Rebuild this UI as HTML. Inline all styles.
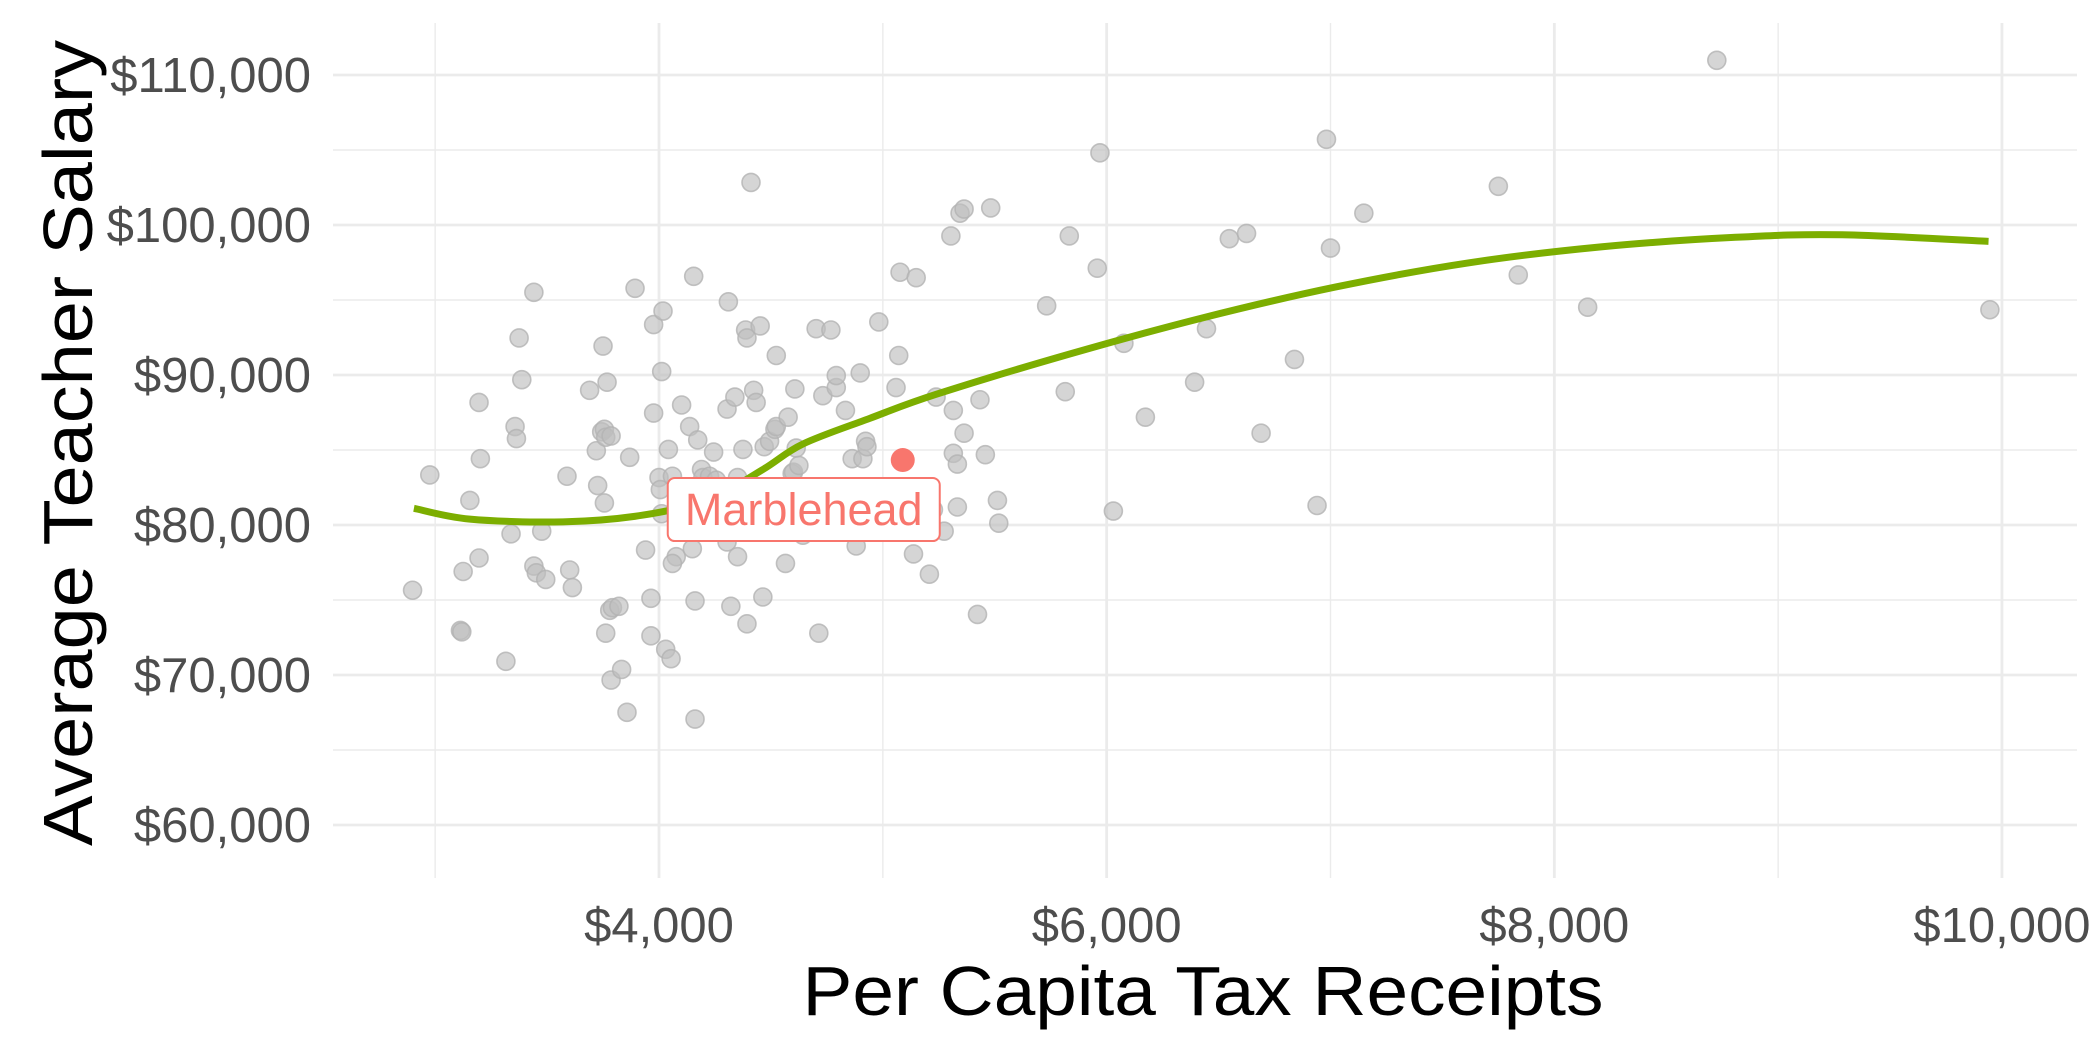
<!DOCTYPE html>
<html><head><meta charset="utf-8"><style>
html,body{margin:0;padding:0;background:#fff;}
svg{display:block;font-family:"Liberation Sans",Arial,sans-serif;}
</style></head><body>
<svg id="chart" width="2100" height="1050" viewBox="0 0 2100 1050" xmlns="http://www.w3.org/2000/svg">
<g id="grid"></g>
<g id="points"></g>
<g id="trend"></g>
<g id="highlight"></g>
<g id="axes"></g>
<text x="1203" y="1015" font-size="70" fill="#000" text-anchor="middle" textLength="801" lengthAdjust="spacingAndGlyphs">Per Capita Tax Receipts</text>
<text transform="translate(92,443) rotate(-90)" font-size="70" fill="#000" text-anchor="middle" textLength="806" lengthAdjust="spacingAndGlyphs">Average Teacher Salary</text>
</svg>
<script>
const xVals=[2899,2976,3113,3119,3125,3155,3196,3202,3196,3316,3339,3357,3363,3375,3387,3441,3441,3452,3476,3494,3589,3601,3613,3690,3720,3726,3744,3750,3756,3762,3756,3762,3768,3786,3780,3786,3792,3821,3833,3857,3869,3893,3940,3964,3964,3976,3976,4000,4006,4012,4012,4018,4030,4054,4042,4060,4077,4060,4101,4137,4149,4161,4161,4173,4155,4190,4196,4226,4256,4244,4292,4304,4310,4304,4321,4339,4351,4351,4375,4387,4393,4411,4393,4423,4434,4464,4452,4470,4494,4518,4524,4524,4565,4577,4595,4601,4607,4613,4625,4625,4643,4702,4714,4732,4768,4792,4792,4833,4863,4881,4899,4911,4923,4929,4982,5000,5030,5059,5071,5077,5137,5149,5208,5226,5238,5274,5304,5315,5345,5363,5363,5315,5333,5333,5423,5434,5458,5482,5512,5518,5732,5815,5833,5958,5970,6030,6077,6173,6393,6446,6548,6625,6690,6839,6940,6982,7000,7149,7750,7839,8149,8726,9946];
const yVals=[75.65,83.34,72.97,72.88,76.90,81.64,88.17,84.42,77.80,70.91,79.41,86.56,85.76,92.47,89.69,95.51,77.26,76.81,79.59,76.37,83.25,77.00,75.83,88.98,84.95,82.63,86.21,91.93,86.38,85.85,81.47,72.79,89.52,85.94,74.31,69.66,74.49,74.58,70.37,67.51,84.51,95.78,78.33,75.11,72.61,87.46,93.36,83.16,82.36,80.75,90.23,94.26,71.71,71.09,85.04,83.25,77.89,77.44,88.00,86.56,78.42,74.94,67.06,85.67,96.58,83.70,83.16,83.25,82.99,84.86,80.39,78.87,94.88,87.73,74.58,88.53,77.89,83.16,85.04,93.00,73.41,102.84,92.47,88.98,88.17,75.20,93.27,85.22,85.58,86.38,91.30,86.56,77.44,87.19,83.43,83.52,89.07,85.13,83.97,81.02,79.32,93.09,72.79,88.62,93.00,89.16,89.96,87.64,84.42,78.60,90.14,84.42,85.58,85.22,93.54,80.12,79.77,89.16,91.30,96.85,78.07,96.49,76.72,81.02,88.53,79.59,99.27,84.78,100.79,86.12,101.06,87.64,84.06,81.20,74.04,88.35,84.69,101.14,81.64,80.12,94.61,88.89,99.27,97.12,104.81,80.93,92.11,87.19,89.52,93.09,99.09,99.44,86.12,91.04,81.30,105.71,98.46,100.79,102.58,96.67,94.52,110.98,94.35];
const trendX=[2905,3155,3571,3929,4226,4464,4643,4940,5238,5833,6429,7024,7619,8214,8810,9286,9940];
const trendY=[81.11,80.39,80.21,80.66,81.73,83.70,85.40,87.10,88.71,91.39,93.81,95.87,97.48,98.55,99.18,99.35,98.91];
const highlightX=[5089];
const highlightY=[84.33];
const highlightLabel=["Marblehead"];
const xTicks=[4000,6000,8000,10000];
const xTickLabels=["$4,000","$6,000","$8,000","$10,000"];
const xMinor=[3000,5000,7000,9000];
const yTicks=[60,70,80,90,100,110];
const yTickLabels=["$60,000","$70,000","$80,000","$90,000","$100,000","$110,000"];
const yMinor=[65,75,85,95,105];

const NS="http://www.w3.org/2000/svg";
const PL=333,PR=2077,PT=23,PB=878;
function sx(v){return 659+(v-4000)*0.22383;}
function sy(v){return 75+(110-v)*15.0;}
function mk(tag,attrs,parent){const e=document.createElementNS(NS,tag);for(const k in attrs)e.setAttribute(k,attrs[k]);parent.appendChild(e);return e;}
const grid=document.getElementById('grid');
yMinor.forEach(v=>{const l=mk('line',{x1:PL,x2:PR,y1:sy(v),y2:sy(v),stroke:'#ebebeb','stroke-width':1.4},grid);

});
xMinor.forEach(v=>{const l=mk('line',{x1:sx(v),x2:sx(v),y1:PT,y2:PB,stroke:'#ebebeb','stroke-width':1.4},grid);

});
yTicks.forEach(v=>{const l=mk('line',{x1:PL,x2:PR,y1:sy(v),y2:sy(v),stroke:'#ebebeb','stroke-width':2.8},grid);

});
xTicks.forEach(v=>{const l=mk('line',{x1:sx(v),x2:sx(v),y1:PT,y2:PB,stroke:'#ebebeb','stroke-width':2.8},grid);

});
const axes=document.getElementById('axes');
yTicks.forEach((v,i)=>{const t=mk('text',{x:311,y:sy(v)+17,'font-size':49,fill:'#4d4d4d','text-anchor':'end'},axes);t.textContent=yTickLabels[i];

});
xTicks.forEach((v,i)=>{const t=mk('text',{x:sx(v),y:942,'font-size':49,fill:'#4d4d4d','text-anchor':'middle'},axes);t.textContent=xTickLabels[i];

});
const pts=document.getElementById('points');
xVals.forEach((v,i)=>{const c=mk('circle',{cx:sx(v),cy:sy(yVals[i]),r:9,fill:'#bfbfbf','fill-opacity':0.65,stroke:'#b3b3b3','stroke-opacity':0.8,'stroke-width':1.6},pts);

});
const tp=trendX.map((v,i)=>[sx(v),sy(trendY[i])]);
let d='M'+tp[0][0]+','+tp[0][1];
for(let i=0;i<tp.length-1;i++){const p0=tp[Math.max(0,i-1)],p1=tp[i],p2=tp[i+1],p3=tp[Math.min(tp.length-1,i+2)];
const c1=[p1[0]+(p2[0]-p0[0])/6,p1[1]+(p2[1]-p0[1])/6],c2=[p2[0]-(p3[0]-p1[0])/6,p2[1]-(p3[1]-p1[1])/6];
d+=' C'+c1[0]+','+c1[1]+' '+c2[0]+','+c2[1]+' '+p2[0]+','+p2[1];}
const tr=mk('path',{d:d,fill:'none',stroke:'#7CAE00','stroke-width':7},document.getElementById('trend'));


const hl=document.getElementById('highlight');
highlightX.forEach((v,i)=>{const px=sx(v),py=sy(highlightY[i]);
const c=mk('circle',{cx:px,cy:py,r:12,fill:'#F8766D'},hl);


const r=mk('rect',{x:px-235,y:py+18,width:272,height:63,rx:7,fill:'#fff',stroke:'#F8766D','stroke-width':2},hl);


const t=mk('text',{x:px-99,y:py+65,'font-size':45,fill:'#F8766D','text-anchor':'middle'},hl);t.textContent=highlightLabel[i];

});
</script>
</body></html>
